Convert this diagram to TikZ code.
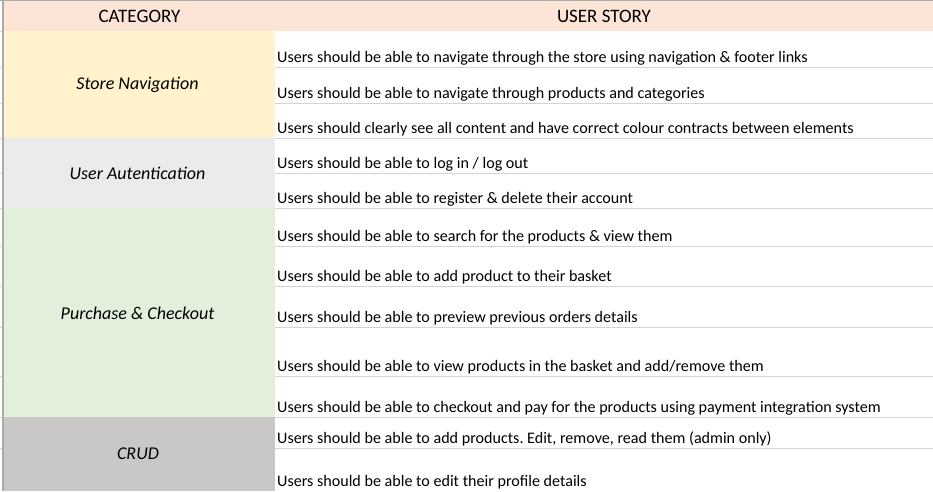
\documentclass[tikz,border=0pt]{standalone}
\usepackage{fontspec}
\setmainfont{Carlito}
\frenchspacing
\definecolor{hdr}{HTML}{FCE4D6}
\definecolor{navc}{HTML}{FFF2CC}
\definecolor{authc}{HTML}{EBEBEB}
\definecolor{purc}{HTML}{E2EFDA}
\definecolor{crudc}{HTML}{C9C8C7}
\definecolor{gridc}{HTML}{D4D4D4}
\definecolor{framec}{HTML}{ABABAB}
\tikzset{
  story/.style={anchor=base west,inner sep=0pt,font=\fontsize{16.1}{19}\selectfont},
  catlabel/.style={inner sep=0pt,font=\fontsize{18}{21}\selectfont\itshape},
  hdrlabel/.style={inner sep=0pt,font=\fontsize{19}{22}\selectfont},
  gridline/.style={draw=gridc,line width=1pt},
  frameline/.style={draw=framec,line width=1.2pt}
}
\begin{document}
\begin{tikzpicture}[x=1pt,y=-1pt]
\useasboundingbox (0,0) rectangle (933,491);
\fill[white] (0,0) rectangle (933,491);
% fills
\fill[hdr] (3,1) rectangle (933,31);
\fill[navc] (3,31) rectangle (275,138);
\fill[authc] (3,138) rectangle (275,208);
\fill[purc] (3,208) rectangle (275,417);
\fill[crudc] (3,417) rectangle (275,491);
% grid lines in story column
\foreach \yy in {67,103,138,173,208,246,286,327,376,417,448}{
  \draw[gridline] (275,\yy) -- (933,\yy);
  \draw[gridline] (0,\yy) -- (3,\yy);
}
\draw[gridline] (0,31) -- (3,31);
% frame
\draw[frameline] (0,0.6) -- (933,0.6);
\draw[frameline] (3,0) -- (3,491);
% header
\node[hdrlabel] (hcat) at (139.5,16.5) {CATEGORY};
\node[hdrlabel] (hstory) at (604,16.5) {USER STORY};
% categories
\node[catlabel] (cnav) at (137.5,85) {Store Navigation};
\node[catlabel] (cauth) at (137.5,173) {User Autentication};
\node[catlabel] (cpur) at (137.5,313) {Purchase \& Checkout};
\node[catlabel] (ccrud) at (138,454) {CRUD};
% stories
\node[story] (s1) at (277,62.5) {Users should be able to navigate through the store using navigation \& footer links};
\node[story] (s2) at (277,98.5) {Users should be able to navigate through products and categories};
\node[story] (s3) at (277,133.5) {Users should clearly see all content and have correct colour contracts between elements};
\node[story] (s4) at (277,168.5) {Users should be able to log in / log out};
\node[story] (s5) at (277,203.5) {Users should be able to register \& delete their account};
\node[story] (s6) at (277,241.5) {Users should be able to search for the products \& view them};
\node[story] (s7) at (277,281.5) {Users should be able to add product to their basket};
\node[story] (s8) at (277,322.5) {Users should be able to preview previous orders details};
\node[story] (s9) at (277,371.5) {Users should be able to view products in the basket and add/remove them};
\node[story] (s10) at (277,412.5) {Users should be able to checkout and pay for the products using payment integration system};
\node[story] (s11) at (277,443.5) {Users should be able to add products. Edit, remove, read them (admin only)};
\node[story] (s12) at (277,486.5) {Users should be able to edit their profile details};
\end{tikzpicture}
\end{document}
